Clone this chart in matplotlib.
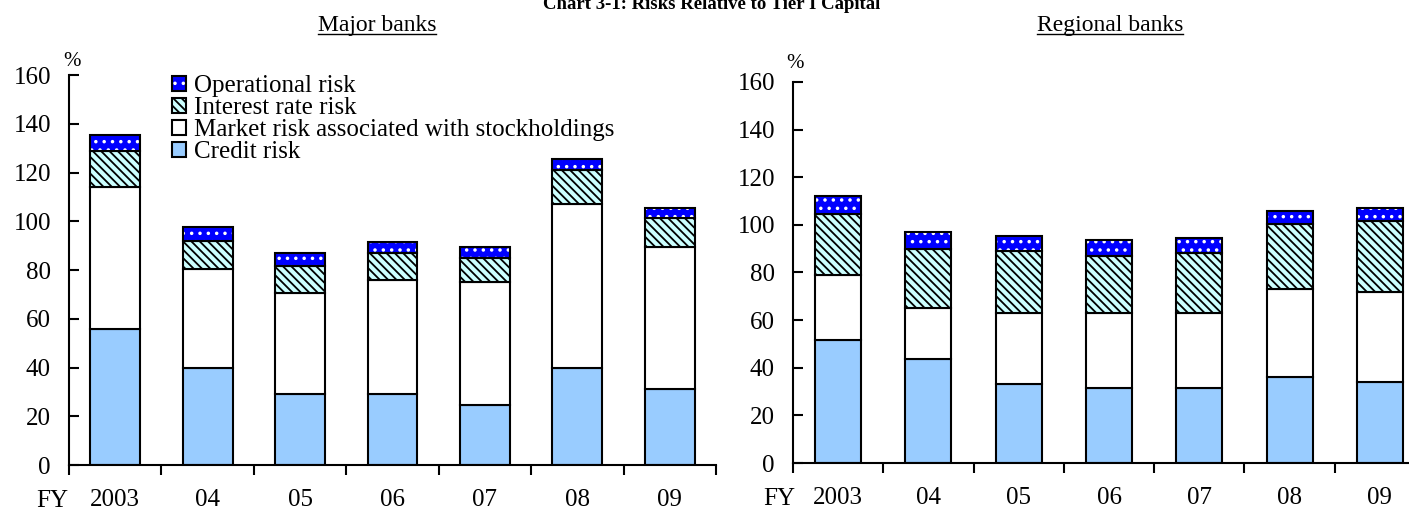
import numpy as np
import matplotlib
matplotlib.use("Agg")
import matplotlib.pyplot as plt
from matplotlib.lines import Line2D
from matplotlib.legend_handler import HandlerTuple

plt.rcParams['font.family'] = ['Liberation Serif', 'DejaVu Serif']
plt.rcParams['hatch.linewidth'] = 1.3

years = ['2003', '04', '05', '06', '07', '08', '09']

# major banks, % of Tier I capital
major_credit = [56, 40, 29, 29, 24.5, 40, 31]
major_market = [58, 40.5, 41.5, 47, 50.5, 67, 58.5]
major_interest = [15, 11.5, 11, 11, 10, 14, 12]
major_oper = [6.5, 5.5, 5.5, 4.5, 4.5, 4.5, 4]

# regional banks
reg_credit = [51.5, 43.5, 33, 31.5, 31.5, 36, 34]
reg_market = [27.5, 21.5, 30, 31.5, 31.5, 37, 38]
reg_interest = [25.5, 25, 26, 24, 25, 27.5, 29.5]
reg_oper = [7.5, 7, 6.5, 6.5, 6.5, 5.5, 5.5]

W, H = 1409, 511
fig = plt.figure(figsize=(W / 100, H / 100), dpi=100)


def px_axes(x0, x1, y_top, y_bot):
    return fig.add_axes([x0 / W, 1 - y_bot / H, (x1 - x0) / W, (y_bot - y_top) / H])


def draw_panel(ax, credit, market, interest, oper, width):
    x = np.arange(len(years))
    credit = np.array(credit)
    market = np.array(market)
    interest = np.array(interest)
    oper = np.array(oper)
    kw = dict(width=width, edgecolor='black', linewidth=1.5, zorder=2)
    b1 = ax.bar(x, credit, color='#99ccff', **kw)
    b2 = ax.bar(x, market, bottom=credit, color='white', **kw)
    b3 = ax.bar(x, interest, bottom=credit + market, color='#ccffff',
                hatch='\\\\\\\\', **kw)
    base = credit + market + interest
    b4 = ax.bar(x, oper, bottom=base, width=width, color='#0000ff',
                edgecolor='white', hatch='..', linewidth=0, zorder=2)
    b5 = ax.bar(x, oper, bottom=base, width=width, fill=False,
                edgecolor='black', linewidth=1.5, zorder=3)

    ax.set_xlim(-0.5, len(years) - 0.5)
    ax.set_ylim(0, 160)
    ax.set_yticks(np.arange(0, 161, 20))
    ax.set_xticks(x)
    ax.set_xticklabels(years)
    ax.set_xticks(np.arange(-0.5, len(years)), minor=True)
    ax.tick_params(axis='x', which='major', length=0, pad=17, labelsize=18)
    ax.tick_params(axis='x', which='minor', length=7, width=1.5, direction='out')
    ax.tick_params(axis='y', length=7, width=1.5, direction='in', pad=13,
                   labelsize=18)
    for s in ['top', 'right']:
        ax.spines[s].set_visible(False)
    for s in ['left', 'bottom']:
        ax.spines[s].set_linewidth(1.5)
    ax.set_facecolor('none')
    return b1, b2, b3, b4, b5


ax1 = px_axes(69, 716, 75, 465)
ax2 = px_axes(793, 1425, 82, 463)

h1 = draw_panel(ax1, major_credit, major_market, major_interest, major_oper, 0.54)
draw_panel(ax2, reg_credit, reg_market, reg_interest, reg_oper, 0.51)

b1, b2, b3, b4, b5 = h1
ax1.legend([(b4[0], b5[0]), b3[0], b2[0], b1[0]],
           ['Operational risk', 'Interest rate risk',
            'Market risk associated with stockholdings', 'Credit risk'],
           handler_map={tuple: HandlerTuple(ndivide=1)},
           loc='upper left', bbox_to_anchor=(172 / W, 1 - 75 / H),
           bbox_transform=fig.transFigure, frameon=False, fontsize=18,
           handlelength=0.55, handleheight=0.55, handletextpad=0.35,
           labelspacing=0.0, borderaxespad=0, borderpad=0)

fig.text(72 / W, 1 - 62 / H, '%', fontsize=15, ha='center', va='center')
fig.text(795 / W, 1 - 63 / H, '%', fontsize=15, ha='center', va='center')
fig.text(52 / W, 1 - 501 / H, 'FY', fontsize=18, ha='center', va='center')
fig.text(779 / W, 1 - 499 / H, 'FY', fontsize=18, ha='center', va='center')

fig.text(712 / W, 1 - 9 / H, 'Chart 3-1: Risks Relative to Tier I Capital',
         fontsize=13.5, fontweight='bold', ha='center', va='baseline')

subs = []
subs.append(fig.text(377 / W, 1 - 26 / H, 'Major banks', fontsize=17,
                     ha='center', va='center'))
subs.append(fig.text(1110 / W, 1 - 26 / H, 'Regional banks', fontsize=17,
                     ha='center', va='center'))
fig.canvas.draw()
r = fig.canvas.get_renderer()
for t in subs:
    bb = t.get_window_extent(r)
    y = (bb.y0 + 2) / H
    fig.add_artist(Line2D([bb.x0 / W, bb.x1 / W], [y, y], color='black',
                          linewidth=1.0, transform=fig.transFigure))

fig.savefig('out.png', dpi=100)
